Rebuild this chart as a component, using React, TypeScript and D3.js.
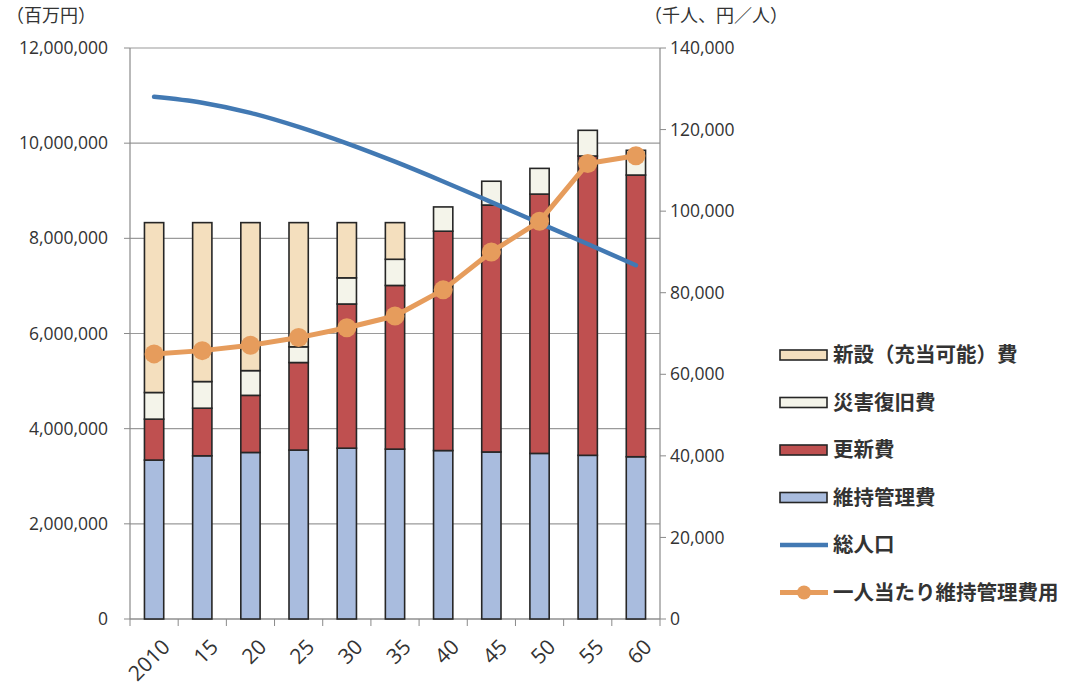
import React, { useEffect } from "react";
import * as d3 from "d3";

// Fiscal years (2010 then abbreviated)
const years = ["2010", "15", "20", "25", "30", "35", "40", "45", "50", "55", "60"];

// Cost components, 百万円 (stacked bottom → top)
const maintenance = [3340000, 3430000, 3500000, 3550000, 3590000, 3570000, 3540000, 3510000, 3480000, 3440000, 3410000];
const renewal = [860000, 1000000, 1200000, 1840000, 3030000, 3440000, 4610000, 5190000, 5450000, 6290000, 5920000];
const disaster = [560000, 560000, 520000, 330000, 550000, 550000, 510000, 500000, 540000, 540000, 520000];
const newConstruction = [3570000, 3340000, 3110000, 2610000, 1160000, 770000, 0, 0, 0, 0, 0];

// Total population (千人) and cost per person (円／人)
const population = [128057, 126597, 124100, 120659, 116618, 112124, 107276, 102210, 97076, 91933, 86737];
const perCapita = [65000, 65800, 67100, 69000, 71400, 74300, 80700, 90000, 97500, 111700, 113600];

const leftTicks = [0, 2000000, 4000000, 6000000, 8000000, 10000000, 12000000];
const rightTicks = [0, 20000, 40000, 60000, 80000, 100000, 120000, 140000];

const seriesKeys = ["maintenance", "renewal", "disaster", "newConstruction"];
const seriesNames: Record<string, string> = {
  newConstruction: "新設（充当可能）費",
  disaster: "災害復旧費",
  renewal: "更新費",
  maintenance: "維持管理費",
};
const seriesColors: Record<string, string> = {
  maintenance: "#a9bcde",
  renewal: "#bf5050",
  disaster: "#f4f4ea",
  newConstruction: "#f4dfbe",
};
const popColor = "#4279b3";
const perCapitaColor = "#e69c5c";

const W = 1070;
const H = 688;
const plot = { left: 130, right: 660, top: 48, bottom: 619 };
const numFont = "'Open Sans', 'Noto Sans', sans-serif";
const jpFont = "'Noto Sans CJK JP', sans-serif";

export default function App() {
  useEffect(() => {
    document.body.style.margin = "0";
  }, []);

  const rows = years.map((y, i) => ({
    year: y,
    maintenance: maintenance[i],
    renewal: renewal[i],
    disaster: disaster[i],
    newConstruction: newConstruction[i],
  }));

  const x = d3.scalePoint<string>().domain(years).range([plot.left, plot.right]).padding(0.5);
  const step = x.step();
  const barW = step * 0.4;
  const yL = d3.scaleLinear().domain([0, 12000000]).range([plot.bottom, plot.top]);
  const yR = d3.scaleLinear().domain([0, 140000]).range([plot.bottom, plot.top]);

  const stacked = d3.stack<any>().keys(seriesKeys)(rows);
  const fmt = d3.format(",");

  const popLine = d3
    .line<number>()
    .x((_, i) => x(years[i]) as number)
    .y((d) => yR(d))
    .curve(d3.curveMonotoneX);
  const pcLine = d3
    .line<number>()
    .x((_, i) => x(years[i]) as number)
    .y((d) => yR(d));

  const legendItems = ["newConstruction", "disaster", "renewal", "maintenance"];
  const legendX = 780;
  const legendY0 = 355;
  const legendGap = 47.5;
  const legendFont = 20.5;

  return (
    <svg width={W} height={H} style={{ display: "block", background: "#fff" }}>
      {/* gridlines */}
      {leftTicks.map((t) => (
        <line key={"g" + t} x1={plot.left} x2={plot.right} y1={yL(t)} y2={yL(t)} stroke="#9a9a9a" strokeWidth={1.2} />
      ))}
      {/* axis lines */}
      <line x1={plot.left} x2={plot.left} y1={plot.top} y2={plot.bottom} stroke="#8a8a8a" strokeWidth={1.2} />
      <line x1={plot.right} x2={plot.right} y1={plot.top} y2={plot.bottom} stroke="#8a8a8a" strokeWidth={1.2} />
      <line x1={plot.left} x2={plot.right} y1={plot.bottom} y2={plot.bottom} stroke="#8a8a8a" strokeWidth={1.2} />

      {/* left ticks and labels */}
      {leftTicks.map((t) => (
        <g key={"l" + t}>
          <line x1={plot.left - 6} x2={plot.left} y1={yL(t)} y2={yL(t)} stroke="#8a8a8a" />
          <text x={108} y={yL(t)} dy="0.35em" textAnchor="end" fontFamily={numFont} fontSize={17.5} fill="#333">
            {fmt(t)}
          </text>
        </g>
      ))}
      {/* right ticks and labels */}
      {rightTicks.map((t) => (
        <g key={"r" + t}>
          <line x1={plot.right} x2={plot.right + 6} y1={yR(t)} y2={yR(t)} stroke="#8a8a8a" />
          <text x={670} y={yR(t)} dy="0.35em" textAnchor="start" fontFamily={numFont} fontSize={17.5} fill="#333">
            {fmt(t)}
          </text>
        </g>
      ))}
      {/* x ticks at category boundaries */}
      {d3.range(years.length + 1).map((i) => (
        <line
          key={"xt" + i}
          x1={plot.left + i * step}
          x2={plot.left + i * step}
          y1={plot.bottom}
          y2={plot.bottom + 7}
          stroke="#8a8a8a"
        />
      ))}
      {years.map((y) => (
        <text
          key={"xl" + y}
          transform={`translate(${(x(y) as number) + 12},${plot.bottom + 24}) rotate(-45)`}
          textAnchor="end"
          dy="0.35em"
          fontFamily={numFont}
          fontSize={21}
          fill="#333"
        >
          {y}
        </text>
      ))}

      {/* axis titles */}
      <text x={6} y={22} fontFamily={jpFont} fontSize={18} fill="#333">
        （百万円）
      </text>
      <text x={644} y={22} fontFamily={jpFont} fontSize={18} fill="#333">
        （千人、円／人）
      </text>

      {/* stacked bars */}
      {stacked.map((s) => (
        <g key={s.key}>
          {s.map((d, i) =>
            d[1] - d[0] > 0 ? (
              <rect
                key={i}
                x={(x(years[i]) as number) - barW / 2}
                y={yL(d[1])}
                width={barW}
                height={yL(d[0]) - yL(d[1])}
                fill={seriesColors[s.key]}
                stroke="#262626"
                strokeWidth={1.6}
              />
            ) : null
          )}
        </g>
      ))}

      {/* population */}
      <path d={popLine(population) || ""} fill="none" stroke={popColor} strokeWidth={4.5} strokeLinecap="round" />

      {/* cost per person */}
      <path d={pcLine(perCapita) || ""} fill="none" stroke={perCapitaColor} strokeWidth={5} strokeLinejoin="round" />
      {perCapita.map((v, i) => (
        <circle key={"pc" + i} cx={x(years[i]) as number} cy={yR(v)} r={9.5} fill={perCapitaColor} />
      ))}

      {/* legend */}
      {legendItems.map((k, i) => {
        const cy = legendY0 + i * legendGap;
        return (
          <g key={"lg" + k}>
            <rect x={legendX} y={cy - 5} width={47} height={10} fill={seriesColors[k]} stroke="#262626" strokeWidth={1.6} />
            <text x={833} y={cy} dy="0.36em" fontFamily={jpFont} fontWeight={700} fontSize={legendFont} fill="#333">
              {seriesNames[k]}
            </text>
          </g>
        );
      })}
      <g>
        <line x1={legendX} x2={legendX + 48} y1={legendY0 + 4 * legendGap} y2={legendY0 + 4 * legendGap} stroke={popColor} strokeWidth={4.5} />
        <text x={833} y={legendY0 + 4 * legendGap} dy="0.36em" fontFamily={jpFont} fontWeight={700} fontSize={legendFont} fill="#333">
          総人口
        </text>
      </g>
      <g>
        <line x1={legendX} x2={legendX + 48} y1={legendY0 + 5 * legendGap} y2={legendY0 + 5 * legendGap} stroke={perCapitaColor} strokeWidth={5} />
        <circle cx={legendX + 24} cy={legendY0 + 5 * legendGap} r={7} fill={perCapitaColor} />
        <text x={833} y={legendY0 + 5 * legendGap} dy="0.36em" fontFamily={jpFont} fontWeight={700} fontSize={legendFont} fill="#333">
          一人当たり維持管理費用
        </text>
      </g>
    </svg>
  );
}
